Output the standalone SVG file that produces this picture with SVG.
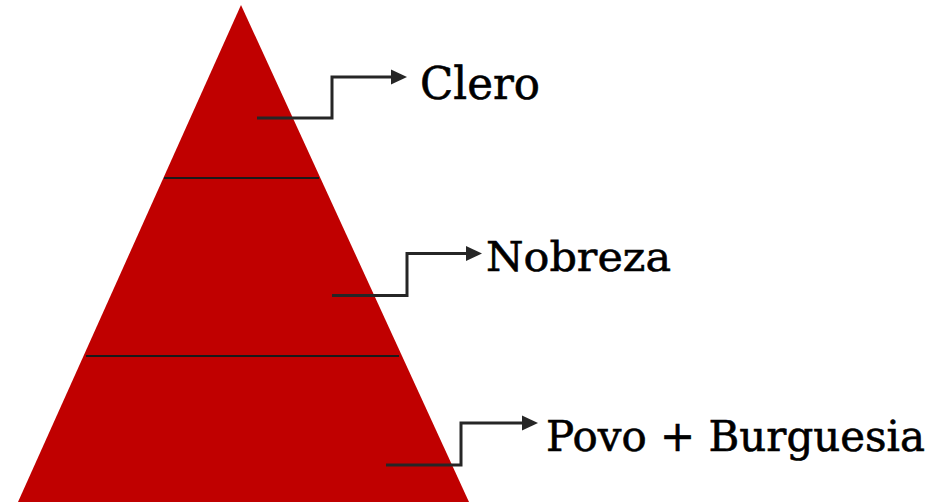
<svg xmlns="http://www.w3.org/2000/svg" width="933" height="502" viewBox="0 0 933 502">
<defs>
<style>
.lbl{font-family:"DejaVu Serif","Liberation Serif",serif;fill:#000;stroke:#000;stroke-width:0.6;}
.conn{fill:none;stroke:#262626;stroke-width:3;}
.div{stroke:#1a1a1a;stroke-width:2;}
</style>
</defs>
<rect width="933" height="502" fill="#fff"/>
<g id="pyramid">
<polygon points="241,5 469,502 18,502" fill="#C00000"/>
<line class="div" x1="164" y1="178" x2="319" y2="178"/>
<line class="div" x1="86" y1="356" x2="399" y2="356"/>
</g>
<g id="connectors">
<polyline class="conn" points="257,118 332,118 332,77 398,77" />
<path d="M391,69.5 L407,77 L391,84.5 z" fill="#262626"/>
<polyline class="conn" points="332,295.5 407,295.5 407,253.5 473,253.5"/>
<path d="M466,246 L482,253.5 L466,261 z" fill="#262626"/>
<polyline class="conn" points="386,465 461,465 461,423 529,423"/>
<path d="M522,415.5 L538,423 L522,430.5 z" fill="#262626"/>
</g>
<g id="clero"><text class="lbl" x="420" y="99" font-size="45" textLength="120" lengthAdjust="spacingAndGlyphs">Clero</text></g>
<g id="nobreza"><text class="lbl" x="486" y="271" font-size="41" textLength="185" lengthAdjust="spacingAndGlyphs">Nobreza</text></g>
<g id="povo"><text class="lbl" x="546" y="451" font-size="42" textLength="379" lengthAdjust="spacingAndGlyphs">Povo + Burguesia</text></g>
</svg>
